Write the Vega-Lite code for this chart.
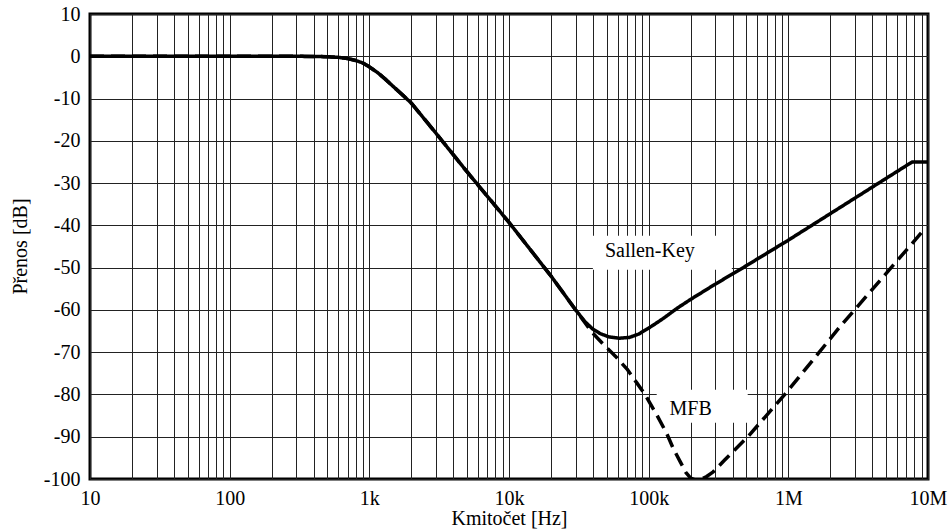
{
  "$schema": "https://vega.github.io/schema/vega-lite/v6.json",
  "width": 838,
  "height": 465,
  "autosize": {"type": "none"},
  "padding": {"left": 90, "top": 14, "right": 24, "bottom": 51},
  "background": "white",
  "config": {
    "view": {"stroke": "black", "strokeWidth": 3},
    "font": "Liberation Serif",
    "axis": {
      "grid": true,
      "gridColor": "#222222",
      "gridWidth": 1,
      "ticks": false,
      "domain": false,
      "labelFont": "Liberation Serif",
      "labelFontSize": 20,
      "labelColor": "black",
      "labelFlush": false,
      "labelOverlap": false,
      "labelPadding": 10,
      "titleFont": "Liberation Serif",
      "titleFontSize": 20,
      "titleFontWeight": "normal",
      "titleColor": "black"
    }
  },
  "datasets": {
    "curves": [
      {"f": 10, "db": 0, "series": "Sallen-Key"},
      {"f": 100, "db": 0, "series": "Sallen-Key"},
      {"f": 300, "db": 0, "series": "Sallen-Key"},
      {"f": 500, "db": -0.1, "series": "Sallen-Key"},
      {"f": 600, "db": -0.25, "series": "Sallen-Key"},
      {"f": 700, "db": -0.55, "series": "Sallen-Key"},
      {"f": 800, "db": -1.0, "series": "Sallen-Key"},
      {"f": 900, "db": -1.6, "series": "Sallen-Key"},
      {"f": 1000, "db": -2.5, "series": "Sallen-Key"},
      {"f": 1150, "db": -3.9, "series": "Sallen-Key"},
      {"f": 1300, "db": -5.4, "series": "Sallen-Key"},
      {"f": 1500, "db": -7.3, "series": "Sallen-Key"},
      {"f": 1750, "db": -9.3, "series": "Sallen-Key"},
      {"f": 2000, "db": -11.1, "series": "Sallen-Key"},
      {"f": 2500, "db": -15, "series": "Sallen-Key"},
      {"f": 3000, "db": -18.2, "series": "Sallen-Key"},
      {"f": 5000, "db": -27.3, "series": "Sallen-Key"},
      {"f": 10000, "db": -39.3, "series": "Sallen-Key"},
      {"f": 20000, "db": -52, "series": "Sallen-Key"},
      {"f": 30000, "db": -60, "series": "Sallen-Key"},
      {"f": 35000, "db": -62.8, "series": "Sallen-Key"},
      {"f": 40000, "db": -64.6, "series": "Sallen-Key"},
      {"f": 45000, "db": -65.6, "series": "Sallen-Key"},
      {"f": 52000, "db": -66.4, "series": "Sallen-Key"},
      {"f": 62000, "db": -66.7, "series": "Sallen-Key"},
      {"f": 73000, "db": -66.5, "series": "Sallen-Key"},
      {"f": 85000, "db": -65.7, "series": "Sallen-Key"},
      {"f": 100000, "db": -64.3, "series": "Sallen-Key"},
      {"f": 115000, "db": -63, "series": "Sallen-Key"},
      {"f": 130000, "db": -61.8, "series": "Sallen-Key"},
      {"f": 160000, "db": -59.6, "series": "Sallen-Key"},
      {"f": 200000, "db": -57.5, "series": "Sallen-Key"},
      {"f": 300000, "db": -53.9, "series": "Sallen-Key"},
      {"f": 464000, "db": -50.2, "series": "Sallen-Key"},
      {"f": 1000000, "db": -43.5, "series": "Sallen-Key"},
      {"f": 7700000, "db": -25, "series": "Sallen-Key"},
      {"f": 10000000, "db": -25, "series": "Sallen-Key"},
      {"f": 10, "db": 0, "series": "MFB"},
      {"f": 100, "db": 0, "series": "MFB"},
      {"f": 300, "db": 0, "series": "MFB"},
      {"f": 500, "db": -0.1, "series": "MFB"},
      {"f": 600, "db": -0.25, "series": "MFB"},
      {"f": 700, "db": -0.55, "series": "MFB"},
      {"f": 800, "db": -1.0, "series": "MFB"},
      {"f": 900, "db": -1.6, "series": "MFB"},
      {"f": 1000, "db": -2.5, "series": "MFB"},
      {"f": 1150, "db": -3.9, "series": "MFB"},
      {"f": 1300, "db": -5.4, "series": "MFB"},
      {"f": 1500, "db": -7.3, "series": "MFB"},
      {"f": 1750, "db": -9.3, "series": "MFB"},
      {"f": 2000, "db": -11.1, "series": "MFB"},
      {"f": 2500, "db": -15, "series": "MFB"},
      {"f": 3000, "db": -18.2, "series": "MFB"},
      {"f": 5000, "db": -27.3, "series": "MFB"},
      {"f": 10000, "db": -39.3, "series": "MFB"},
      {"f": 20000, "db": -52, "series": "MFB"},
      {"f": 30000, "db": -60, "series": "MFB"},
      {"f": 35000, "db": -63, "series": "MFB"},
      {"f": 39000, "db": -65.2, "series": "MFB"},
      {"f": 47000, "db": -68, "series": "MFB"},
      {"f": 58000, "db": -71, "series": "MFB"},
      {"f": 70000, "db": -74, "series": "MFB"},
      {"f": 82000, "db": -77.2, "series": "MFB"},
      {"f": 94000, "db": -80, "series": "MFB"},
      {"f": 115000, "db": -85, "series": "MFB"},
      {"f": 135000, "db": -89.3, "series": "MFB"},
      {"f": 150000, "db": -92.8, "series": "MFB"},
      {"f": 167000, "db": -95.7, "series": "MFB"},
      {"f": 185000, "db": -98.5, "series": "MFB"},
      {"f": 200000, "db": -99.8, "series": "MFB"},
      {"f": 215000, "db": -100.2, "series": "MFB"},
      {"f": 235000, "db": -100.1, "series": "MFB"},
      {"f": 260000, "db": -99.4, "series": "MFB"},
      {"f": 290000, "db": -98.3, "series": "MFB"},
      {"f": 350000, "db": -95.5, "series": "MFB"},
      {"f": 513000, "db": -90, "series": "MFB"},
      {"f": 944000, "db": -80, "series": "MFB"},
      {"f": 2340000, "db": -64, "series": "MFB"},
      {"f": 9100000, "db": -41.5, "series": "MFB"}
    ],
    "labels": [
      {"f": 102000, "db": -47.4, "label": "Sallen-Key"},
      {"f": 200000, "db": -84.8, "label": "MFB"}
    ]
  },
  "layer": [
    {
      "data": {"name": "labels"},
      "transform": [{"filter": "datum.label == 'Sallen-Key'"}],
      "mark": {"type": "point", "filled": true, "color": "white", "opacity": 1, "strokeWidth": 0, "shape": "M-0.814,-0.3H1.171V0.186H-0.814Z", "size": 19600},
      "encoding": {
        "x": {
          "field": "f",
          "type": "quantitative",
          "scale": {"type": "log", "domain": [10, 10000000], "nice": false},
          "axis": {
            "values": [10, 20, 30, 40, 50, 60, 70, 80, 90, 100, 200, 300, 400, 500, 600, 700, 800, 900, 1000, 2000, 3000, 4000, 5000, 6000, 7000, 8000, 9000, 10000, 20000, 30000, 40000, 50000, 60000, 70000, 80000, 90000, 100000, 200000, 300000, 400000, 500000, 600000, 700000, 800000, 900000, 1000000, 2000000, 3000000, 4000000, 5000000, 6000000, 7000000, 8000000, 9000000, 10000000],
            "labelExpr": "datum.value == 10 ? '10' : datum.value == 100 ? '100' : datum.value == 1000 ? '1k' : datum.value == 10000 ? '10k' : datum.value == 100000 ? '100k' : datum.value == 1000000 ? '1M' : datum.value == 10000000 ? '10M' : ''",
            "labelPadding": 9,
            "title": "Kmitočet [Hz]",
            "titleBaseline": "alphabetic",
            "titleY": 45
          }
        },
        "y": {
          "field": "db",
          "type": "quantitative",
          "scale": {"domain": [-100, 10], "nice": false, "zero": false},
          "axis": {
            "values": [-100, -90, -80, -70, -60, -50, -40, -30, -20, -10, 0, 10],
            "labelExpr": "'' + datum.value",
            "title": "Přenos [dB]",
            "titleAngle": -90,
            "titleAlign": "center",
            "titleBaseline": "alphabetic",
            "titleX": -64,
            "titleY": 232
          }
        }
      }
    },
    {
      "data": {"name": "labels"},
      "transform": [{"filter": "datum.label == 'MFB'"}],
      "mark": {"type": "point", "filled": true, "color": "white", "opacity": 1, "strokeWidth": 0, "shape": "M-0.68,-0.5H1.14V0.16H-0.68Z", "size": 10000},
      "encoding": {
        "x": {"field": "f", "type": "quantitative"},
        "y": {"field": "db", "type": "quantitative"}
      }
    },
    {
      "data": {"name": "labels"},
      "mark": {"type": "text", "font": "Liberation Serif", "fontSize": 20, "color": "black", "align": "center", "baseline": "alphabetic"},
      "encoding": {
        "x": {"field": "f", "type": "quantitative"},
        "y": {"field": "db", "type": "quantitative"},
        "text": {"field": "label"}
      }
    },
    {
      "data": {"name": "curves"},
      "mark": {"type": "line", "color": "black", "strokeWidth": 3.5, "interpolate": "linear", "clip": true, "strokeCap": "butt", "strokeJoin": "round"},
      "encoding": {
        "x": {"field": "f", "type": "quantitative"},
        "y": {"field": "db", "type": "quantitative"},
        "detail": {"field": "series"},
        "strokeDash": {
          "field": "series",
          "type": "nominal",
          "scale": {"domain": ["Sallen-Key", "MFB"], "range": [[1, 0], [14, 7]]},
          "legend": null
        }
      }
    }
  ]
}
